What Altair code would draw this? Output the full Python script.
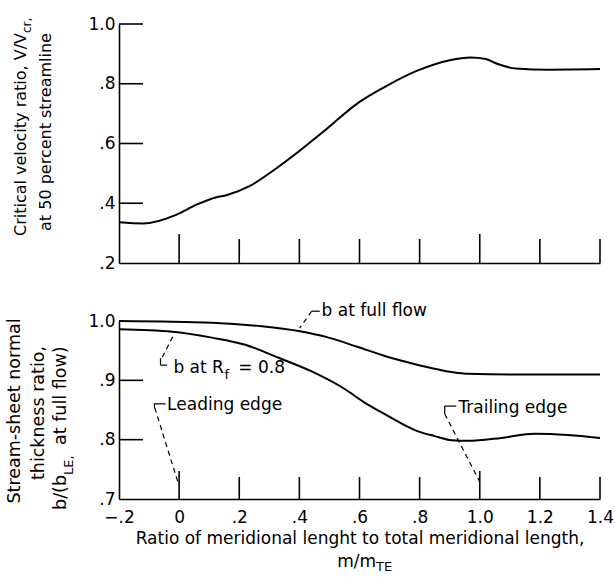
import altair as alt
import pandas as pd

FONT = "DejaVu Sans"
INK = "black"

# ---------------- data ----------------
# top panel: critical velocity ratio at 50 percent streamline
top_m = [-0.2, -0.12, -0.01, 0.06, 0.124, 0.157, 0.234, 0.311, 0.4, 0.49, 0.59,
         0.68, 0.79, 0.9, 0.97, 1.02, 1.06, 1.12, 1.23, 1.4]
top_v = [0.336, 0.332, 0.361, 0.396, 0.420, 0.427, 0.457, 0.508, 0.575, 0.648, 0.732,
         0.787, 0.843, 0.879, 0.888, 0.883, 0.866, 0.851, 0.847, 0.849]

# bottom panel: stream-sheet normal thickness ratio
full_m = [-0.2, 0.109, 0.275, 0.397, 0.497, 0.59, 0.684, 0.795, 0.906, 0.961, 1.127, 1.4]
full_b = [1.0, 0.997, 0.991, 0.983, 0.972, 0.957, 0.941, 0.926, 0.914, 0.911, 0.910, 0.910]
rf_m = [-0.2, -0.023, 0.109, 0.22, 0.331, 0.441, 0.552, 0.618, 0.684, 0.74, 0.795,
        0.85, 0.906, 0.961, 1.072, 1.182, 1.293, 1.4]
rf_b = [0.986, 0.982, 0.972, 0.960, 0.938, 0.915, 0.885, 0.862, 0.843, 0.827, 0.814,
        0.806, 0.799, 0.798, 0.803, 0.810, 0.808, 0.803]

# axes
x_labels = [-0.2, 0.0, 0.2, 0.4, 0.6, 0.8, 1.0, 1.2, 1.4]
x_major = [0.0, 1.0]
x_minor = [0.2, 0.4, 0.6, 0.8, 1.2, 1.4]
top_y_labels = [0.2, 0.4, 0.6, 0.8, 1.0]
top_y_ticks = [0.4, 0.6, 0.8, 1.0]
bot_y_labels = [0.7, 0.8, 0.9, 1.0]
bot_y_ticks = [0.8, 0.9]

# annotations (bottom panel, data coordinates)
ann_text = ["b at full flow", "Leading edge", "Trailing edge"]
ann_m = [0.474, -0.040, 0.929]
ann_b = [1.0165, 0.8582, 0.8537]
# dashed leaders: start (m, b) -> end (m, b)
lead_m1 = [0.441, -0.056, -0.081, 0.8835]
lead_b1 = [1.0165, 0.939, 0.8537, 0.8431]
lead_m2 = [0.401, -0.017, -0.003, 0.9987]
lead_b2 = [0.988, 0.9778, 0.7269, 0.7303]
# solid hooks
hook_m1 = [0.441, -0.062, -0.062, -0.084, -0.082, 0.8835, 0.8835]
hook_b1 = [1.0165, 0.9374, 0.9256, 0.8604, 0.8604, 0.8566, 0.8566]
hook_m2 = [0.468, -0.062, -0.040, -0.045, -0.082, 0.922, 0.8835]
hook_b2 = [1.0165, 0.9256, 0.9256, 0.8604, 0.8537, 0.8566, 0.8431]

# "b at R_f = 0.8" pieces
rf_text = ["b at R", "f", "= 0.8"]
rf_tm = [0.149, 0.151, 0.197]
rf_tb = [0.9205, 0.909, 0.9205]

WT, HT = 481, 239
WB, HB = 481, 178

xs = alt.Scale(domain=[-0.2, 1.4], nice=False, zero=False)
ys_top = alt.Scale(domain=[0.2, 1.0], nice=False, zero=False)
ys_bot = alt.Scale(domain=[0.7, 1.0], nice=False, zero=False)

LABEL_EXPR = "datum.value == 0 ? '0' : replace(format(datum.value, '.1f'), '0.', '.')"

AX_TOP_X = alt.Axis(values=x_labels, labels=False, ticks=False, title=None, grid=False)
AX_TOP_Y = alt.Axis(values=top_y_labels, labelExpr=LABEL_EXPR, ticks=False, title=None,
                    labelPadding=4, grid=False, labelFlush=False, labelOverlap=False)
AX_BOT_X = alt.Axis(values=x_labels, labelExpr=LABEL_EXPR, ticks=False, labelPadding=10,
                    title="Ratio of meridional lenght to total meridional length,",
                    titlePadding=5, grid=False, labelFlush=False, labelOverlap=False)
AX_BOT_Y = alt.Axis(values=bot_y_labels, labelExpr=LABEL_EXPR, ticks=False, title=None,
                    labelPadding=4, grid=False, labelFlush=False, labelOverlap=False)


def ptext(txt, x, y, size=17, angle=0, align="center", baseline="middle"):
    kw = dict(font=FONT, fontSize=size, align=align, baseline=baseline, color=INK)
    if angle:
        kw["angle"] = angle
    return alt.Chart(pd.DataFrame({"t": [txt]})).mark_text(**kw).encode(
        text="t:N", x=alt.value(x), y=alt.value(y))


def xticks(values, ax, h, length):
    return alt.Chart(pd.DataFrame({"m": values})).mark_rule(color=INK, strokeWidth=1.6).encode(
        x=alt.X("m:Q", scale=xs, axis=ax),
        y=alt.value(h), y2=alt.value(h - length))


def yticks(values, ys, ax):
    return alt.Chart(pd.DataFrame({"v": values})).mark_rule(color=INK, strokeWidth=1.6).encode(
        y=alt.Y("v:Q", scale=ys, axis=ax),
        x=alt.value(0), x2=alt.value(24))


# ---------------- top panel ----------------
top_df = pd.DataFrame({"m": top_m, "v": top_v})
top_line = alt.Chart(top_df).mark_line(color=INK, strokeWidth=2, interpolate="monotone").encode(
    x=alt.X("m:Q", scale=xs, axis=AX_TOP_X),
    y=alt.Y("v:Q", scale=ys_top, axis=AX_TOP_Y),
)

top = alt.layer(
    top_line,
    xticks(x_major, AX_TOP_X, HT, 29),
    xticks(x_minor, AX_TOP_X, HT, 24),
    yticks(top_y_ticks, ys_top, AX_TOP_Y),
    ptext("Critical velocity ratio, V/V", -98, 9, size=16, angle=270, align="right"),
    ptext("cr,", -92, 9, size=12, angle=270, align="left"),
    ptext("at 50 percent streamline", -73, 108, size=16, angle=270),
).properties(width=WT, height=HT)

# ---------------- bottom panel ----------------
full_df = pd.DataFrame({"m": full_m, "b": full_b})
rf_df = pd.DataFrame({"m": rf_m, "b": rf_b})


def bx(field):
    return alt.X(field, scale=xs, axis=AX_BOT_X)


def by(field):
    return alt.Y(field, scale=ys_bot, axis=AX_BOT_Y)


full_line = alt.Chart(full_df).mark_line(color=INK, strokeWidth=2, interpolate="monotone").encode(
    x=bx("m:Q"), y=by("b:Q"))
rf_line = alt.Chart(rf_df).mark_line(color=INK, strokeWidth=2, interpolate="monotone").encode(
    x=bx("m:Q"), y=by("b:Q"))

lead_df = pd.DataFrame({"m1": lead_m1, "b1": lead_b1, "m2": lead_m2, "b2": lead_b2})
leaders = alt.Chart(lead_df).mark_rule(color=INK, strokeWidth=1.2, strokeDash=[5, 4]).encode(
    x=bx("m1:Q"), y=by("b1:Q"), x2="m2:Q", y2="b2:Q")

hook_df = pd.DataFrame({"m1": hook_m1, "b1": hook_b1, "m2": hook_m2, "b2": hook_b2})
hooks = alt.Chart(hook_df).mark_rule(color=INK, strokeWidth=1.2).encode(
    x=bx("m1:Q"), y=by("b1:Q"), x2="m2:Q", y2="b2:Q")

ann_df = pd.DataFrame({"t": ann_text, "m": ann_m, "b": ann_b})
ann = alt.Chart(ann_df).mark_text(font=FONT, fontSize=17, align="left", baseline="middle",
                                  color=INK).encode(x=bx("m:Q"), y=by("b:Q"), text="t:N")

rf_df_t = pd.DataFrame({"t": rf_text, "m": rf_tm, "b": rf_tb})
rf_main = alt.Chart(rf_df_t.iloc[[0]]).mark_text(font=FONT, fontSize=17, align="right",
                                                 baseline="middle", color=INK).encode(
    x=bx("m:Q"), y=by("b:Q"), text="t:N")
rf_sub = alt.Chart(rf_df_t.iloc[[1]]).mark_text(font=FONT, fontSize=13, align="left",
                                                baseline="middle", color=INK).encode(
    x=bx("m:Q"), y=by("b:Q"), text="t:N")
rf_rest = alt.Chart(rf_df_t.iloc[[2]]).mark_text(font=FONT, fontSize=17, align="left",
                                                 baseline="middle", color=INK).encode(
    x=bx("m:Q"), y=by("b:Q"), text="t:N")

bottom = alt.layer(
    full_line, rf_line,
    xticks(x_major, AX_BOT_X, HB, 28),
    xticks(x_minor, AX_BOT_X, HB, 22),
    yticks(bot_y_ticks, ys_bot, AX_BOT_Y),
    leaders, hooks, ann, rf_main, rf_sub, rf_rest,
    ptext("Stream-sheet normal", -104, 90, size=17.5, angle=270),
    ptext("thickness ratio,", -80, 92, size=17.5, angle=270),
    ptext("b/(b", -58, 154, size=17.5, angle=270, align="right"),
    ptext("LE,", -50, 154, size=13, angle=270, align="left"),
    ptext(" at full flow)", -58, 124, size=17.5, angle=270, align="left"),
    ptext("m/m", 257, 241, align="right"),
    ptext("TE", 257, 246, size=13, align="left"),
).properties(width=WB, height=HB)

chart = alt.vconcat(top, bottom, spacing=58, bounds="flush").configure_view(
    stroke=None
).configure_axis(
    domainColor=INK, domainWidth=1.6, grid=False,
    labelFont=FONT, labelFontSize=17, labelColor=INK,
    titleFont=FONT, titleFontSize=17, titleFontWeight="normal", titleColor=INK,
).properties(
    padding={"left": 6, "top": 15, "right": 1, "bottom": 0},
    background="white",
)

chart.save("out.html", embed_options={"renderer": "svg", "actions": False})
